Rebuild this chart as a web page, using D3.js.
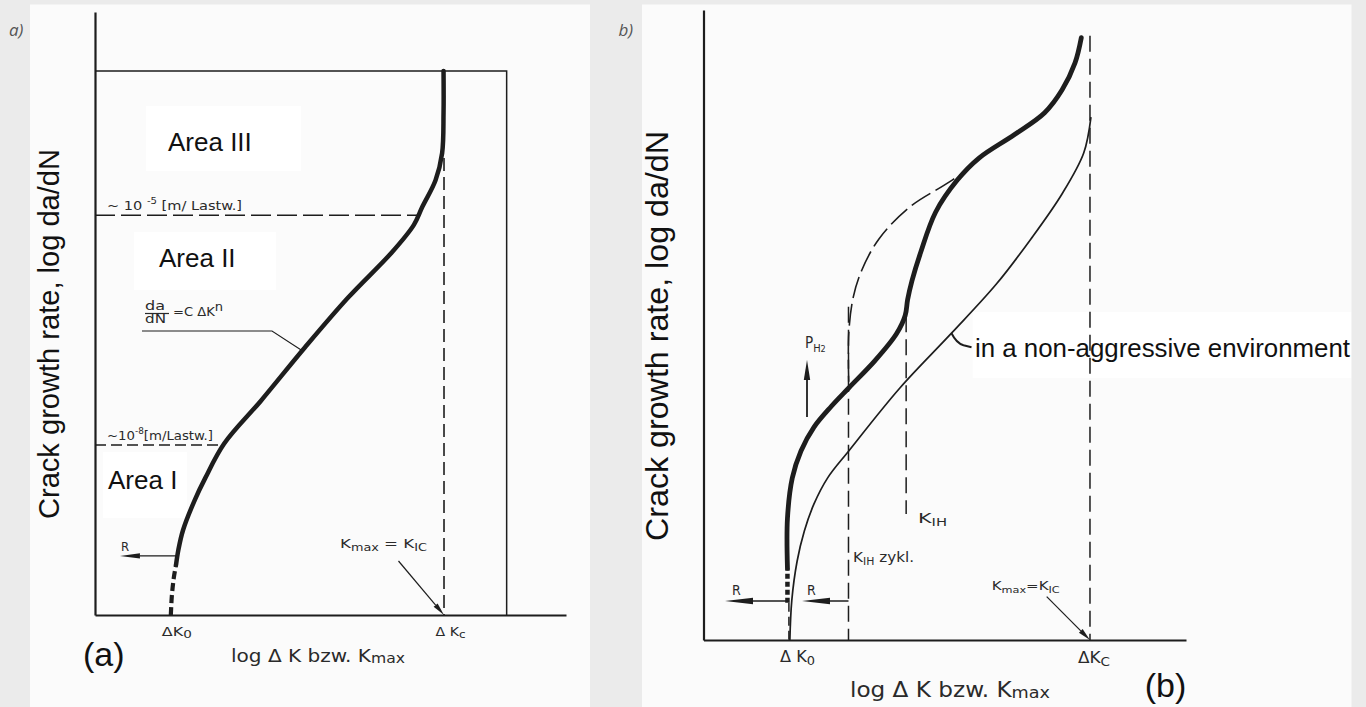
<!DOCTYPE html>
<html>
<head>
<meta charset="utf-8">
<script src="https://cdn.jsdelivr.net/npm/d3@7"></script>
<style>
  html, body { margin: 0; padding: 0; background: #ebebeb; }
  svg { display: block; }
</style>
</head>
<body>
<div id="chart"></div>
<script>
// both panels use arbitrary 0..100 units on the log axes

// panel a) - single crack growth curve
const aCurve = [[17.2, 8.3], [17.7, 10.8], [18.7, 14.1], [21.2, 19.1], [23.4, 22.7], [27.4, 28.4],
  [35.2, 35.5], [44.6, 44.4], [53.7, 52.6], [63.1, 60.2], [67.7, 64.7], [69.5, 67.7],
  [72.3, 72.1], [73.7, 76.6], [74.0, 83.3], [74.0, 90.2]];
const aCurveStart = [[16.1, 0], [16.3, 3], [16.7, 6], [17.2, 8.3]];
const aRateLevels = [66.3, 28.2];
const aRateEnds = [68.6, 27.4];
const aRateExp = ["-5", "-8"];
const aKeyX = [16.1, 74.1];          // ΔK0, ΔKc
const aKeyLabels = [["0"], ["c"]];
const aFrame = [87.4, 90.2];         // right edge, top edge
const aKcTop = 75.8;
const aAreas = ["Area III", "Area II", "Area I"];

// panel b) - hydrogen environment vs. inert
const bThick = [[17.4, 11.4], [17.4, 19.3], [18.4, 25.7], [20.2, 30.0], [22.9, 33.8], [26.5, 37.1],
  [30.1, 40.0], [35.5, 44.3], [40.0, 48.6], [41.8, 51.5], [42.3, 54.0], [43.2, 57.0], [45.0, 61.5],
  [48.1, 67.9], [52.6, 73.0], [57.1, 76.5], [64.4, 80.2], [70.7, 83.7], [74.3, 87.3],
  [77.0, 91.6], [78.3, 95.6]];
const bThickStart = [[17.4, 5.9], [17.4, 11.4]];
const bDashed = [[30.1, 41.0], [30.1, 48.6], [31.0, 54.3], [32.8, 58.7], [36.4, 63.7],
  [42.7, 68.7], [49.9, 72.2], [54.4, 74.4]];
const bThin = [[17.9, 0], [18.3, 6.3], [19.4, 12.5], [20.9, 17.3], [22.9, 21.6], [25.7, 25.7],
  [30.1, 30.0], [40.7, 40.0], [51.4, 48.7], [60.7, 56.5], [67.9, 63.7], [74.3, 70.8], [78.8, 77.3],
  [80.3, 83.0]];
const bKeyX = [17.7, 30.05, 42.0, 80.1];   // ΔK0, KIH zykl., KIH, ΔKc
const bKeyTop = [5.9, 52.9, 51.4, 95.9];
const bKeyBottom = [0, 0, 20, 0];
const bKeyLabels = [["0"], ["C"]];
const bLeaderPoint = [51.4, 48.7];
const bNote = "in a non-aggressive environment";

const yTitle = "Crack growth rate, log da/dN";
const xTitle = ["log  Δ K  bzw. K", "max"];

const W = 1366, H = 707;
const ink = "#1d1d1d";
const scanFont = "'DejaVu Sans Condensed', 'DejaVu Sans', sans-serif";
const sansFont = "'Liberation Sans', Arial, sans-serif";

const xA = d3.scaleLinear().domain([0, 100]).range([95, 566]);
const yA = d3.scaleLinear().domain([0, 100]).range([615, 12]);
const xB = d3.scaleLinear().domain([0, 100]).range([703.5, 1186]);
const yB = d3.scaleLinear().domain([0, 100]).range([640, 10]);

const svg = d3.select("#chart").append("svg")
  .attr("width", W)
  .attr("height", H);

svg.append("rect").attr("width", W).attr("height", H).attr("fill", "#ebebeb");
svg.append("rect").attr("x", 30).attr("y", 4.5).attr("width", 560).attr("height", H).attr("fill", "#fbfbfb");
svg.append("rect").attr("x", 642).attr("y", 4.5).attr("width", 709.5).attr("height", H).attr("fill", "#fbfbfb");

// text with sub/superscript pieces: parts = [text, shift, size]
function label(g, x, y, parts, o = {}) {
  const t = g.append("text")
    .attr("x", x)
    .attr("y", y)
    .attr("font-family", o.font || scanFont)
    .attr("font-size", o.size || 13)
    .attr("fill", o.color || "#2a2a2a");
  if (o.len) t.attr("textLength", o.len).attr("lengthAdjust", "spacingAndGlyphs");
  if (o.anchor) t.attr("text-anchor", o.anchor);
  if (o.style) t.attr("font-style", o.style);
  if (o.transform) t.attr("transform", o.transform);
  let shift = 0;
  [].concat(parts).forEach(p => {
    const [txt, s = 0, sz] = Array.isArray(p) ? p : [p];
    const ts = t.append("tspan").attr("dy", s - shift).text(txt);
    if (sz) ts.attr("font-size", sz);
    shift = s;
  });
  return t;
}

function arrow(g, x1, y1, x2, y2, len, half, w = 1.4) {
  const a = Math.atan2(y2 - y1, x2 - x1);
  const bx = x2 - len * Math.cos(a), by = y2 - len * Math.sin(a);
  const nx = -Math.sin(a) * half, ny = Math.cos(a) * half;
  g.append("line")
    .attr("x1", x1).attr("y1", y1).attr("x2", bx).attr("y2", by)
    .attr("stroke", ink).attr("stroke-width", w);
  g.append("path")
    .attr("d", `M${x2},${y2}L${bx + nx},${by + ny}L${bx - nx},${by - ny}Z`)
    .attr("fill", ink);
}

function whiteBox(g, x, y, w, h) {
  g.append("rect").attr("x", x).attr("y", y).attr("width", w).attr("height", h).attr("fill", "#ffffff");
}

function styleAxis(sel) {
  sel.select(".domain").attr("stroke", ink).attr("stroke-width", 2.2);
}

// ---------------- panel a ----------------
const ga = svg.append("g");
const lineA = d3.line().x(d => xA(d[0])).y(d => yA(d[1])).curve(d3.curveCatmullRom.alpha(0.5));

whiteBox(ga, 146, 106, 155, 65);
whiteBox(ga, 134, 232, 142, 58);
whiteBox(ga, 103, 452, 84, 66);

ga.append("g").attr("transform", `translate(0,${yA(0)})`)
  .call(d3.axisBottom(xA).tickValues([]).tickSizeOuter(0)).call(styleAxis);
ga.append("g").attr("transform", `translate(${xA(0)},0)`)
  .call(d3.axisLeft(yA).tickValues([]).tickSizeOuter(0)).call(styleAxis);

// frame of area III
ga.append("path")
  .attr("d", `M${xA(0)},${yA(aFrame[1])}H${xA(aFrame[0])}V${yA(0)}`)
  .attr("fill", "none").attr("stroke", ink).attr("stroke-width", 1.5);

// ΔKc dashed line
ga.append("line")
  .attr("x1", xA(aKeyX[1])).attr("x2", xA(aKeyX[1]))
  .attr("y1", yA(aKcTop)).attr("y2", yA(0))
  .attr("stroke", ink).attr("stroke-width", 1.6).attr("stroke-dasharray", "13,6");

// rate levels
aRateLevels.forEach((v, i) => {
  ga.append("line")
    .attr("x1", xA(0)).attr("x2", xA(aRateEnds[i]))
    .attr("y1", yA(v)).attr("y2", yA(v))
    .attr("stroke", ink).attr("stroke-width", 1.5)
    .attr("stroke-dasharray", i === 0 ? "20,6" : "11,5");
});
label(ga, 107, yA(aRateLevels[0]) - 5.5, [["~ 10 "], [aRateExp[0], -6, 9], [" [m/ Lastw.]", 0]], { size: 13, len: 135 });
label(ga, 107, yA(aRateLevels[1]) - 5, [["~10"], [aRateExp[1], -6, 8], ["[m/Lastw.]", 0]], { size: 12, len: 106 });

ga.append("path").datum(aCurveStart)
  .attr("d", lineA).attr("fill", "none").attr("stroke", ink)
  .attr("stroke-width", 4.2).attr("stroke-dasharray", "8,4");
ga.append("path").datum(aCurve)
  .attr("d", lineA).attr("fill", "none").attr("stroke", ink)
  .attr("stroke-width", 4.5).attr("stroke-linecap", "round");

// Paris law label and leader
label(ga, 145, 310, "da", { size: 12, len: 20 });
ga.append("line").attr("x1", 145).attr("x2", 169).attr("y1", 313.5).attr("y2", 313.5)
  .attr("stroke", "#2a2a2a").attr("stroke-width", 1.2);
label(ga, 145, 323, "dN", { size: 12, len: 21 });
label(ga, 173, 316, [["=C ΔK"], ["n", -5, 12]], { size: 12, len: 50 });
const leadPt = aCurve[7];
ga.append("path")
  .attr("d", `M142,331H272L${xA(leadPt[0]) - 2},${yA(leadPt[1]) + 4}`)
  .attr("fill", "none").attr("stroke", ink).attr("stroke-width", 1.1);

// R arrow
arrow(ga, xA(aCurve[0][0]) + 1, yA(9.8), xA(5.3), yA(9.8), 20, 2.6, 1.3);
label(ga, 121, 551, "R", { size: 13 });

// Kmax = KIC
label(ga, 340, 548, [["K"], ["max", 3, 10], [" = K", 0], ["IC", 3, 10]], { size: 13, len: 87 });
arrow(ga, 398.5, 561, xA(aKeyX[1]), yA(0), 13, 2.6, 1.2);

// key labels on x-axis
label(ga, xA(aKeyX[0]) - 9, 636, [["ΔK"], [aKeyLabels[0][0], 2, 11]], { size: 13, len: 30 });
label(ga, xA(aKeyX[1]) - 8.5, 636, [["Δ K"], [aKeyLabels[1][0], 2, 11]], { size: 13, len: 30 });
label(ga, 231, 662, [[xTitle[0]], [xTitle[1], 1, 14]], { size: 18, len: 174 });

aAreas.forEach((t, i) => {
  const pos = [[168, 151], [159, 267], [108, 489]][i];
  label(ga, pos[0], pos[1], t, { font: sansFont, size: 26, color: "#111" });
});

label(ga, 0, 0, yTitle, {
  font: sansFont, size: 29, color: "#111", anchor: "middle", len: 370,
  transform: "translate(59,334) rotate(-90)"
});
label(ga, 83, 666, "(a)", { font: sansFont, size: 34, color: "#111" });
label(ga, 9, 36, "a)", { font: "'Open Sans', sans-serif", size: 17, color: "#555", style: "italic" });

// ---------------- panel b ----------------
const gb = svg.append("g");
const lineB = d3.line().x(d => xB(d[0])).y(d => yB(d[1])).curve(d3.curveCatmullRom.alpha(0.5));

whiteBox(gb, 972.6, 312, 378.5, 66);

gb.append("g").attr("transform", `translate(0,${yB(0)})`)
  .call(d3.axisBottom(xB).tickValues([]).tickSizeOuter(0)).call(styleAxis);
gb.append("g").attr("transform", `translate(${xB(0)},0)`)
  .call(d3.axisLeft(yB).tickValues([]).tickSizeOuter(0)).call(styleAxis);

bKeyX.forEach((v, i) => {
  gb.append("line")
    .attr("x1", xB(v)).attr("x2", xB(v))
    .attr("y1", yB(bKeyTop[i])).attr("y2", yB(bKeyBottom[i]))
    .attr("stroke", ink).attr("stroke-width", 1.5)
    .attr("stroke-dasharray", i === 0 ? "9,5" : "16,7");
});

gb.append("path").datum(bThin)
  .attr("d", lineB).attr("fill", "none").attr("stroke", ink).attr("stroke-width", 1.7);
gb.append("path").datum(bDashed)
  .attr("d", lineB).attr("fill", "none").attr("stroke", ink)
  .attr("stroke-width", 1.6).attr("stroke-dasharray", "22,6");
gb.append("path").datum(bThickStart)
  .attr("d", lineB).attr("fill", "none").attr("stroke", ink)
  .attr("stroke-width", 4.5).attr("stroke-dasharray", "5,3");
gb.append("path").datum(bThick)
  .attr("d", lineB).attr("fill", "none").attr("stroke", ink)
  .attr("stroke-width", 4.8).attr("stroke-linecap", "round");

// note and leader hook
const lx = xB(bLeaderPoint[0]), ly = yB(bLeaderPoint[1]);
gb.append("path")
  .attr("d", `M${lx},${ly}Q${lx + 5},${ly + 10} ${lx + 12},${ly + 12}L${lx + 20},${ly + 14}`)
  .attr("fill", "none").attr("stroke", ink).attr("stroke-width", 2);
label(gb, 975, 357, bNote, { font: sansFont, size: 25.5, color: "#111", len: 375 });

// P_H2 arrow
label(gb, 805, 348, [["P"], ["H", 4, 11], ["2", 4, 9]], { size: 15 });
arrow(gb, 807, 417, 807, 360, 20, 3.2, 1.8);

// KIH labels
label(gb, 918, 523, [["K"], ["IH", 3, 10]], { size: 14, len: 29 });
label(gb, 853, 561.7, [["K"], ["IH", 3, 10], [" zykl.", 0]], { size: 14, len: 61 });

// R arrows
arrow(gb, xB(bThickStart[0][0]), 601, 725, 601, 28, 3.2, 1.5);
label(gb, 732, 595, "R", { size: 14 });
arrow(gb, xB(bKeyX[1]), 601, 802, 601, 28, 3.2, 1.5);
label(gb, 807, 595, "R", { size: 14 });

// Kmax = KIC
label(gb, 991.7, 590, [["K"], ["max", 3, 9], ["=K", 0], ["IC", 3, 9]], { size: 12, len: 68 });
arrow(gb, 1046.7, 596.7, xB(bKeyX[3]), yB(0), 13, 2.6, 1.2);

label(gb, 780, 662, [["Δ K"], [bKeyLabels[0][0], 3, 12]], { size: 15, len: 35 });
label(gb, 1078, 663, [["ΔK"], [bKeyLabels[1][0], 3, 12]], { size: 15, len: 32 });
label(gb, 850, 697, [[xTitle[0]], [xTitle[1], 1, 16]], { size: 21, len: 200 });

label(gb, 0, 0, yTitle, {
  font: sansFont, size: 32, color: "#111", anchor: "middle", len: 410,
  transform: "translate(668,336) rotate(-90)"
});
label(gb, 1144.7, 697, "(b)", { font: sansFont, size: 34, color: "#111" });
label(gb, 618.5, 36, "b)", { font: "'Open Sans', sans-serif", size: 17, color: "#555", style: "italic" });
</script>
</body>
</html>
